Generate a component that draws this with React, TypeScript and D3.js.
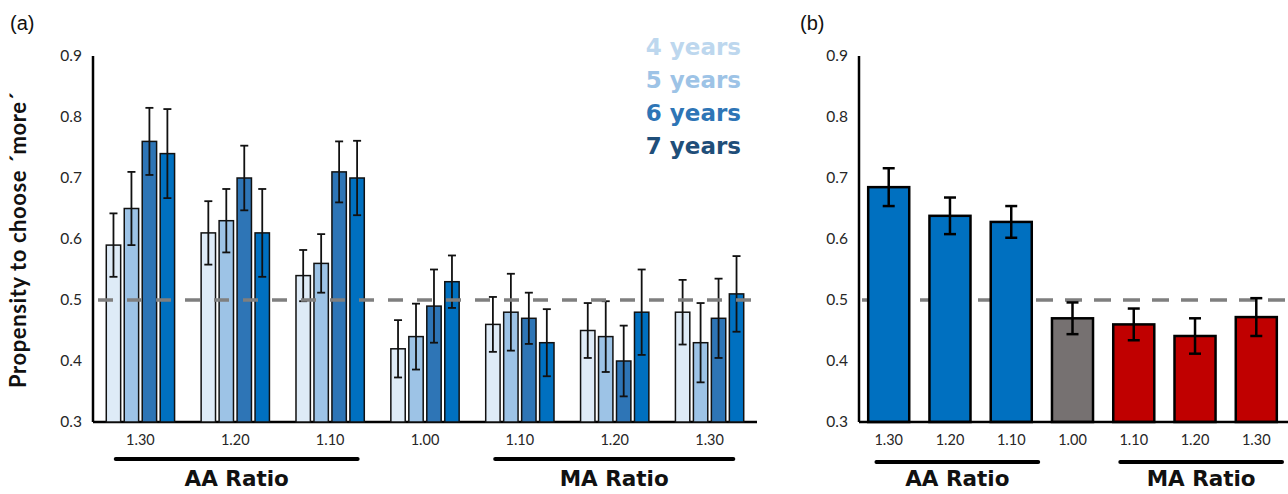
import * as d3 from "d3";

const W = 1288;
const H = 494;

// panel (a)
const ratioLabels = ["1.30", "1.20", "1.10", "1.00", "1.10", "1.20", "1.30"];
const ageGroups = ["4 years", "5 years", "6 years", "7 years"];
const mean4 = [0.59, 0.61, 0.54, 0.42, 0.46, 0.45, 0.48];
const mean5 = [0.65, 0.63, 0.56, 0.44, 0.48, 0.44, 0.43];
const mean6 = [0.76, 0.70, 0.71, 0.49, 0.47, 0.40, 0.47];
const mean7 = [0.74, 0.61, 0.70, 0.53, 0.43, 0.48, 0.51];
const err4 = [0.052, 0.052, 0.042, 0.047, 0.045, 0.045, 0.053];
const err5 = [0.06, 0.052, 0.048, 0.054, 0.063, 0.058, 0.065];
const err6 = [0.055, 0.053, 0.05, 0.06, 0.042, 0.058, 0.065];
const err7 = [0.073, 0.072, 0.061, 0.043, 0.055, 0.07, 0.062];
const barColors = ["#deebf7", "#9dc3e6", "#2e75b6", "#0070c0"];
const legendColors = ["#bdd7ee", "#9dc3e6", "#2e75b6", "#1f4e79"];

// panel (b)
const meanAll = [0.685, 0.638, 0.628, 0.47, 0.46, 0.441, 0.472];
const errAll = [0.031, 0.03, 0.026, 0.026, 0.026, 0.029, 0.031];
const allColors = ["#0070c0", "#0070c0", "#0070c0", "#767171", "#c00000", "#c00000", "#c00000"];

const yTicks = [0.3, 0.4, 0.5, 0.6, 0.7, 0.8, 0.9];
const font = "Lato, 'DejaVu Sans', sans-serif";
const boldFont = "'DejaVu Sans', Lato, sans-serif";

const y = d3.scaleLinear().domain([0.3, 0.9]).range([422, 56]);

function YAxis({ x0, x1 }: { x0: number; x1: number }) {
  return (
    <g>
      {yTicks.map((t) => (
        <text key={t} x={x0 - 11} y={y(t)} dy="0.35em" textAnchor="end" fontSize={15.5} fill="#262626" fontFamily={font}>
          {t.toFixed(1)}
        </text>
      ))}
      <line x1={x0} x2={x0} y1={y(0.9)} y2={y(0.3)} stroke="#000" strokeWidth={2.5} />
      <line x1={x0} x2={x1} y1={y(0.3)} y2={y(0.3)} stroke="#000" strokeWidth={2.5} />
    </g>
  );
}

function GroupLabel({ xa, xb, ly, label }: { xa: number; xb: number; ly: number; label: string }) {
  return (
    <g>
      <line x1={xa} x2={xb} y1={ly} y2={ly} stroke="#000" strokeWidth={4} strokeLinecap="round" />
      <text x={(xa + xb) / 2} y={486} textAnchor="middle" fontSize={21.5} fontWeight={700} fontFamily={boldFont} fill="#111">
        {label}
      </text>
    </g>
  );
}

function PanelA() {
  const idx = d3.range(ratioLabels.length).map(String);
  const x = d3.scaleBand().domain(idx).range([93, 757]).paddingInner(0.28).paddingOuter(0.14);
  const xi = d3.scaleBand().domain(ageGroups).range([0, x.bandwidth()]).paddingInner(0.2);
  const means = [mean4, mean5, mean6, mean7];
  const errs = [err4, err5, err6, err7];
  const bw = x.step();
  const cx = (i: number) => (x(String(i)) as number) + x.bandwidth() / 2;
  return (
    <g>
      <YAxis x0={93} x1={757} />
      {idx.map((k, i) => (
        <g key={k} transform={`translate(${x(k)},0)`}>
          {ageGroups.map((a, j) => {
            const m = means[j][i];
            const e = errs[j][i];
            const bx = xi(a) as number;
            const c = bx + xi.bandwidth() / 2;
            return (
              <g key={a}>
                <rect x={bx} y={y(m)} width={xi.bandwidth()} height={y(0.3) - y(m)} fill={barColors[j]} stroke="#111" strokeWidth={1.5} />
                <line x1={c} x2={c} y1={y(m + e)} y2={y(m - e)} stroke="#111" strokeWidth={1.8} />
                <line x1={c - 4} x2={c + 4} y1={y(m + e)} y2={y(m + e)} stroke="#111" strokeWidth={1.8} />
                <line x1={c - 4} x2={c + 4} y1={y(m - e)} y2={y(m - e)} stroke="#111" strokeWidth={1.8} />
              </g>
            );
          })}
        </g>
      ))}
      <line x1={98} x2={757} y1={y(0.5)} y2={y(0.5)} stroke="#7f7f7f" strokeWidth={3.5} strokeDasharray="15,14" />
      {ratioLabels.map((l, i) => (
        <text key={i} x={cx(i)} y={445} textAnchor="middle" fontSize={14.5} fill="#262626" fontFamily={font}>
          {l}
        </text>
      ))}
      <GroupLabel xa={cx(0) - 0.26 * bw} xb={cx(2) + 0.29 * bw} ly={459} label="AA Ratio" />
      <GroupLabel xa={cx(4) - 0.26 * bw} xb={cx(6) + 0.25 * bw} ly={459} label="MA Ratio" />
      {ageGroups.map((a, j) => (
        <text key={a} x={741} y={55 + j * 33} textAnchor="end" fontSize={23} fontWeight={700} fill={legendColors[j]} fontFamily={boldFont}>
          {a}
        </text>
      ))}
      <text transform={`translate(26,240) rotate(-90)`} textAnchor="middle" fontSize={22} fontWeight={700} letterSpacing={0.6} fill="#111" fontFamily={font}>
        Propensity to choose ´more´
      </text>
      <text x={10} y={30} fontSize={20} fontFamily="'Liberation Sans', Arial, sans-serif" fill="#111">(a)</text>
    </g>
  );
}

function PanelB() {
  const idx = d3.range(ratioLabels.length).map(String);
  const x = d3.scaleBand().domain(idx).range([859, 1286]).paddingInner(0.33).paddingOuter(0.15);
  const bw = x.step();
  const cx = (i: number) => (x(String(i)) as number) + x.bandwidth() / 2;
  return (
    <g>
      <line x1={862} x2={1288} y1={y(0.5)} y2={y(0.5)} stroke="#7f7f7f" strokeWidth={3.5} strokeDasharray="17,12" />
      {idx.map((k, i) => {
        const m = meanAll[i];
        const e = errAll[i];
        const c = cx(i);
        return (
          <g key={k}>
            <rect x={x(k)} y={y(m)} width={x.bandwidth()} height={y(0.3) - y(m)} fill={allColors[i]} stroke="#000" strokeWidth={2.5} />
            <line x1={c} x2={c} y1={y(m + e)} y2={y(m - e)} stroke="#000" strokeWidth={2.5} />
            <line x1={c - 6} x2={c + 6} y1={y(m + e)} y2={y(m + e)} stroke="#000" strokeWidth={2.5} />
            <line x1={c - 6} x2={c + 6} y1={y(m - e)} y2={y(m - e)} stroke="#000" strokeWidth={2.5} />
          </g>
        );
      })}
      <YAxis x0={859} x1={1288} />
      {ratioLabels.map((l, i) => (
        <text key={i} x={cx(i)} y={445} textAnchor="middle" fontSize={14.5} fill="#262626" fontFamily={font}>
          {l}
        </text>
      ))}
      <GroupLabel xa={cx(0) - 0.2 * bw} xb={cx(2) + 0.44 * bw} ly={462} label="AA Ratio" />
      <GroupLabel xa={cx(4) - 0.22 * bw} xb={cx(6) + 0.42 * bw} ly={462} label="MA Ratio" />
      <text x={800} y={30} fontSize={20} fontFamily="'Liberation Sans', Arial, sans-serif" fill="#111">(b)</text>
    </g>
  );
}

export default function App() {
  return (
    <svg width={W} height={H} style={{ position: "absolute", left: 0, top: 0, background: "#fff" }}>
      <PanelA />
      <PanelB />
    </svg>
  );
}
